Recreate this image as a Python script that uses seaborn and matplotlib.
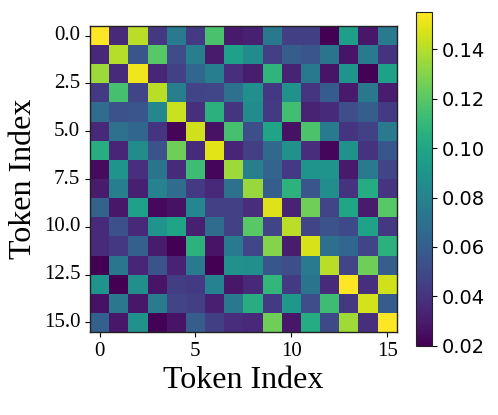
import numpy as np
import matplotlib
matplotlib.use("Agg")
import matplotlib.pyplot as plt
import seaborn as sns

# attention weights, one list per row (token index)
row_00 = [0.155, 0.035, 0.141, 0.042, 0.075, 0.043, 0.116, 0.029, 0.032, 0.074, 0.045, 0.045, 0.020, 0.095, 0.028, 0.075]
row_01 = [0.035, 0.140, 0.055, 0.120, 0.051, 0.078, 0.030, 0.096, 0.085, 0.045, 0.060, 0.055, 0.072, 0.027, 0.075, 0.040]
row_02 = [0.135, 0.036, 0.152, 0.034, 0.046, 0.064, 0.078, 0.038, 0.031, 0.108, 0.033, 0.074, 0.027, 0.090, 0.021, 0.096]
row_03 = [0.043, 0.115, 0.047, 0.141, 0.078, 0.047, 0.048, 0.070, 0.087, 0.042, 0.088, 0.041, 0.059, 0.029, 0.074, 0.031]
row_04 = [0.067, 0.054, 0.055, 0.082, 0.144, 0.038, 0.106, 0.041, 0.085, 0.043, 0.114, 0.033, 0.036, 0.052, 0.060, 0.043]
row_05 = [0.035, 0.070, 0.064, 0.041, 0.022, 0.145, 0.026, 0.115, 0.052, 0.099, 0.026, 0.117, 0.075, 0.041, 0.046, 0.075]
row_06 = [0.104, 0.034, 0.085, 0.054, 0.125, 0.036, 0.149, 0.034, 0.045, 0.065, 0.088, 0.037, 0.022, 0.088, 0.040, 0.056]
row_07 = [0.024, 0.090, 0.038, 0.072, 0.036, 0.113, 0.022, 0.135, 0.078, 0.063, 0.043, 0.090, 0.090, 0.029, 0.075, 0.047]
row_08 = [0.030, 0.078, 0.032, 0.080, 0.067, 0.043, 0.035, 0.070, 0.134, 0.060, 0.107, 0.055, 0.086, 0.040, 0.103, 0.041]
row_09 = [0.062, 0.028, 0.096, 0.023, 0.026, 0.082, 0.046, 0.046, 0.037, 0.148, 0.033, 0.125, 0.047, 0.100, 0.030, 0.120]
row_10 = [0.036, 0.053, 0.035, 0.090, 0.099, 0.032, 0.067, 0.046, 0.120, 0.047, 0.141, 0.047, 0.054, 0.050, 0.098, 0.042]
row_11 = [0.036, 0.042, 0.061, 0.030, 0.020, 0.107, 0.027, 0.075, 0.048, 0.130, 0.031, 0.147, 0.069, 0.064, 0.047, 0.106]
row_12 = [0.020, 0.073, 0.034, 0.054, 0.033, 0.075, 0.020, 0.088, 0.087, 0.056, 0.052, 0.075, 0.141, 0.047, 0.125, 0.060]
row_13 = [0.090, 0.020, 0.087, 0.027, 0.044, 0.043, 0.080, 0.028, 0.035, 0.109, 0.043, 0.072, 0.036, 0.155, 0.038, 0.145]
row_14 = [0.026, 0.074, 0.028, 0.076, 0.047, 0.045, 0.032, 0.074, 0.104, 0.043, 0.092, 0.052, 0.113, 0.042, 0.146, 0.059]
row_15 = [0.061, 0.028, 0.088, 0.021, 0.027, 0.060, 0.045, 0.037, 0.035, 0.125, 0.028, 0.103, 0.050, 0.136, 0.038, 0.155]

x_ticks = [0, 5, 10, 15]
y_ticks = [0.0, 2.5, 5.0, 7.5, 10.0, 12.5, 15.0]

weights = np.array([row_00, row_01, row_02, row_03, row_04, row_05, row_06, row_07,
                    row_08, row_09, row_10, row_11, row_12, row_13, row_14, row_15])

serif = "Liberation Serif"

fig = plt.figure(figsize=(4.98, 4.15), dpi=100)
ax = fig.add_axes([90 / 498, 83 / 415, 306.7 / 498, 306 / 415])
cax = fig.add_axes([415.7 / 498, 69.3 / 415, 16.6 / 498, 333.4 / 415])

sns.heatmap(weights, cmap="viridis", ax=ax, cbar_ax=cax)

# imshow-style ticks: cell i is centred at i + 0.5 in heatmap coordinates
ax.set_xticks([t + 0.5 for t in x_ticks])
ax.set_xticklabels([str(t) for t in x_ticks], rotation=0, fontsize=15, family=serif)
ax.set_yticks([t + 0.5 for t in y_ticks])
ax.set_yticklabels([f"{t:.1f}" for t in y_ticks], rotation=0, fontsize=15, family=serif)
ax.tick_params(length=3.5, width=0.8)

for spine in ax.spines.values():
    spine.set_visible(True)
    spine.set_linewidth(1.0)
    spine.set_color("#222222")

ax.set_xlabel("Token Index", fontsize=23, family=serif)
ax.set_ylabel("Token Index", fontsize=23, family=serif)

cax.tick_params(labelsize=14, length=3.5, width=0.8)
cb = ax.collections[0].colorbar
cb.outline.set_linewidth(0.8)
cb.outline.set_edgecolor("#222222")

fig.savefig("out.png", dpi=100)
